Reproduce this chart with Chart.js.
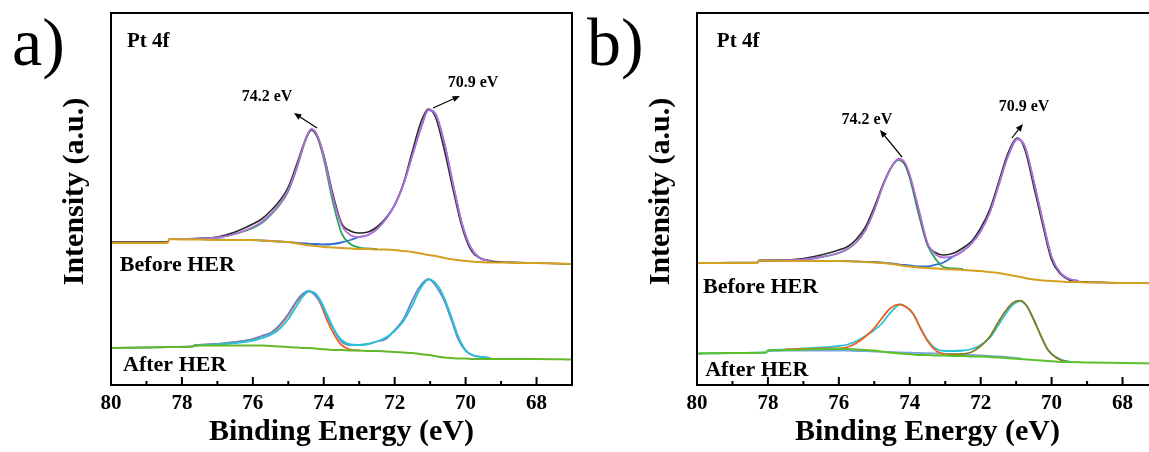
<!DOCTYPE html>
<html>
<head>
<meta charset="utf-8">
<script src="https://cdn.jsdelivr.net/npm/chart.js@4.4.1/dist/chart.umd.min.js"></script>
<style>
  body { margin: 0; width: 1149px; height: 452px; overflow: hidden; background: #fff; position: relative; }
  .panel { position: absolute; top: 0; width: 580px; height: 452px; }
  #pa { left: 0; }
  #pb { left: 586px; }
</style>
</head>
<body>
<div class="panel" id="pa"><canvas id="chartA" width="580" height="452"></canvas></div>
<div class="panel" id="pb"><canvas id="chartB" width="580" height="452"></canvas></div>
<script>
// tick labels (binding energy, eV)
const xTicks = [80, 78, 76, 74, 72, 70, 68];
const xMinor = [79, 77, 75, 73, 71, 69, 67];

// ---- panel a, before HER ----
const eA1 = [80, 79, 78.4, 78.35, 78, 77.5, 77, 76.5, 76, 75.75, 75.5, 75.25, 75, 74.75, 74.5, 74.35, 74.2, 74, 73.75, 73.5, 73.25, 73, 72.75, 72.5, 72.25, 72, 71.75, 71.5, 71.25, 71.05, 70.85, 70.6, 70.35, 70.1, 69.85, 69.6, 69.3, 69, 68.5, 68, 67.5, 67];
const rawA1 = [143, 143, 143, 146, 146, 146.5, 148, 153, 161, 166, 174, 184, 198, 222, 247, 255, 250, 230, 192, 162, 154, 152, 153, 158, 167, 180, 202, 234, 264, 276, 268, 235, 195, 158, 135, 127, 124, 123, 122.5, 122, 121.5, 121];
const fitA1 = [null, null, null, 146, 146, 146.5, 147.5, 151, 158, 163, 171, 181, 195, 219, 247, 256, 251, 229, 189, 160, 150, 148, 150, 156, 166, 180, 201, 230, 258, 275, 271, 242, 200, 161, 137, 127, 124, null, null, null, null, null];
const p1A1 = [null, null, null, 146, 146, 146.5, 147.5, 151, 157, 162, 170, 180, 194, 218, 246, 255, 249, 226, 184, 152, 141, 137.5, 136.5, 136, null, null, null, null, null, null, null, null, null, null, null, null, null, null, null, null, null, null];
const p2A1 = [null, null, null, 146, 146, 146, 145.5, 145, 145, 144.5, 144, 143.5, 143, 142, 141.5, 141, 141, 140.5, 141, 142.5, 145, 148, 150, 156, 166, 180, 201, 230, 258, 275, 271, 242, 200, 161, 137, 127, 124, null, null, null, null, null];
const bgA1 = [142, 142, 142, 146, 145.5, 145.5, 145, 145, 145, 144.5, 144, 143.5, 143, 141.5, 140, 139.5, 139, 138, 137.5, 137, 136.5, 136, 136, 135.5, 135.5, 135, 134, 133, 131.5, 130, 129, 127, 125.5, 124.5, 123.5, 123, 122.5, 122.5, 122, 122, 121.5, 121];

// ---- panel a, after HER ----
const eA2 = [80, 79, 78.4, 77.7, 77.65, 77, 76.5, 76, 75.75, 75.5, 75.25, 75, 74.75, 74.6, 74.42, 74.25, 74.1, 73.9, 73.7, 73.5, 73.25, 73, 72.75, 72.5, 72.25, 72, 71.75, 71.5, 71.3, 71.04, 70.8, 70.6, 70.4, 70.2, 70, 69.8, 69.55, 69.3, 69, 68, 67];
const rawA2 = [37, 37.5, 38, 38.5, 39.5, 41, 43, 46, 49, 52, 60, 71, 85, 91, 94, 90, 83, 68, 54, 43.5, 40, 40, 41, 43.5, 46, 55, 66, 85, 98, 106, 97, 84, 65, 45, 34, 29.5, 28, 27, null, null, null];
const fitA2 = [null, null, null, null, 39.5, 40.5, 42, 44.5, 47, 50, 56, 66, 80, 88, 93.5, 92, 85, 70, 55, 45, 40.5, 40, 41, 43.5, 47.5, 54, 64, 80, 95, 105.5, 100, 87, 68, 48, 35, 30, 28, 27, null, null, null];
const p1A2 = [null, null, null, null, 39.5, 41, 43, 46, 49, 52, 59, 70, 84, 90, 94, 90, 82, 64, 50, 40, 35.5, 34.5, null, null, null, null, null, null, null, null, null, null, null, null, null, null, null, null, null, null, null];
const bgA2 = [37, 37.5, 38, 38.5, 39.5, 39.5, 39.5, 39.5, 39.5, 39, 38.5, 38, 37.5, 37, 37, 36.5, 36, 35.5, 35, 35, 34.5, 34.5, 34, 34, 33.5, 33, 32.5, 32, 31, 30, 28.5, 27.5, 27, 26.5, 26.5, 26, 26, 26, 26, 26, 25.5];

// ---- panel b, before HER ----
const eB1 = [80, 79, 78.3, 78.25, 78, 77.5, 77, 76.5, 76, 75.75, 75.5, 75.25, 75, 74.75, 74.5, 74.32, 74.15, 74, 73.75, 73.5, 73.25, 73.05, 72.75, 72.5, 72.25, 72, 71.75, 71.5, 71.25, 70.96, 70.75, 70.5, 70.25, 70, 69.75, 69.5, 69.25, 69, 68.5, 68, 67.5, 67];
const rawB1 = [122, 122.5, 122.5, 124.5, 124.5, 125, 126.5, 130, 135, 138.5, 146, 158, 178, 201, 219, 226, 222, 209, 175, 141, 132, 130, 132, 137, 144, 157, 175, 202, 230, 247, 235, 198, 160, 125, 111, 105, 103.5, 103, 102.5, 102, 102, 101.5];
const fitB1 = [null, null, null, 124.5, 124.5, 124.8, 125.5, 128, 132, 136, 143, 155, 175, 200, 219, 226, 223, 210, 176, 142, 130, 127.5, 129, 134, 142, 154, 172, 199, 227, 246, 238, 203, 164, 128, 112, 106, 104, null, null, null, null, null];
const p1B1 = [null, null, null, 124.5, 124.5, 124.8, 125.5, 128, 132, 136, 143, 155, 175, 200, 219, 225, 221, 207, 171, 140, 125, 118, 116.5, 116, null, null, null, null, null, null, null, null, null, null, null, null, null, null, null, null, null, null];
const p2B1 = [null, null, null, 124.5, 124.5, 124.5, 124.5, 124.2, 124, 123.8, 123.5, 123.2, 123, 122.3, 121.5, 120.5, 120, 119.5, 118.5, 118.5, 120.5, 122.5, 129, 134, 142, 154, 172, 199, 227, 246, 238, 203, 164, 128, 112, 106, 104, null, null, null, null, null];
const bgB1 = [122, 122, 122, 124.5, 124.3, 124, 124, 124, 124, 123.8, 123.5, 123, 122.5, 122, 121, 120, 119, 118.5, 117.5, 117, 116.5, 116, 115.5, 115, 114.5, 114, 113, 112, 110.5, 108.5, 107, 105.5, 104.5, 104, 103.5, 103, 103, 102.5, 102.5, 102, 102, 101.5];

// ---- panel b, after HER ----
const eB2 = [80, 79, 78.05, 78, 77.5, 77, 76.5, 76, 75.75, 75.5, 75.25, 75, 74.8, 74.6, 74.42, 74.27, 74.1, 73.9, 73.7, 73.5, 73.25, 73, 72.75, 72.5, 72.25, 72, 71.75, 71.5, 71.3, 71.1, 70.88, 70.7, 70.5, 70.3, 70.1, 69.9, 69.7, 69.5, 69, 68, 67];
const fitB2 = [31.5, 32, 32.5, 34.5, 35.5, 36.5, 37.5, 39, 40.5, 44, 49, 55, 61, 70, 77, 80.5, 78, 71, 57, 45, 36, 34, 34, 34.5, 36, 40, 47, 60, 71, 80, 84, 79, 65, 49, 35, 28.5, 25, 23.5, null, null, null];
const p1B2 = [null, null, null, null, 35.5, 36, 36.5, 36.5, 38, 42, 48.5, 57, 66, 75, 79.5, 80.7, 78, 71, 57, 44, 34, 30.5, 29.5, 29, null, null, null, null, null, null, null, null, null, null, null, null, null, null, null, null, null];
const p2B2 = [null, null, null, null, null, null, null, null, null, null, null, null, null, null, null, null, null, null, null, null, null, 30.5, 30.5, 31, 33, 39, 48, 63, 74, 82, 84.3, 79, 65, 49, 35, 28, 24.5, 23, null, null, null];
const bgB2 = [31.5, 32, 32.5, 34.5, 35, 35.5, 36, 36, 36, 35.5, 35, 34.5, 33.5, 32.5, 32, 31.5, 31, 30.5, 30, 30, 29.5, 29.5, 29, 29, 28.5, 28.5, 28, 27.5, 27, 26.5, 26, 25.5, 25, 24.5, 24, 23.5, 23, 23, 22.5, 22, 21.5];
const bg2B2 = [null, null, null, 34, 34.5, 34.5, 34.5, 34.5, 34.3, 34, 33.8, 33.5, 33.2, 33, 32.8, 32.6, 32.4, 32.2, 32, 31.8, 31.5, 31.2, 30.8, 30.5, 30, 29.5, 29, 28.5, 28, 27.3, 26.5, null, null, null, null, null, null, null, null, null, null];

const serif = 'Liberation Serif';

function line(xs, ys, color, width) {
  return {
    data: xs.map((x, i) => ({ x: x, y: ys[i] })),
    borderColor: color,
    borderWidth: width || 1.8,
    pointRadius: 0,
    fill: false,
    spanGaps: false,
    cubicInterpolationMode: 'monotone'
  };
}

// frame, inward ticks and text notes
const framePlugin = {
  id: 'frame',
  afterDraw(chart, args, opts) {
    const { ctx, chartArea: a, scales: { x, y } } = chart;
    ctx.save();
    ctx.strokeStyle = '#000';
    ctx.lineWidth = 2;
    ctx.strokeRect(a.left, a.top, a.right - a.left, a.bottom - a.top);
    ctx.beginPath();
    xTicks.forEach(v => { const px = x.getPixelForValue(v); ctx.moveTo(px, a.bottom); ctx.lineTo(px, a.bottom - 8); });
    xMinor.forEach(v => { const px = x.getPixelForValue(v); ctx.moveTo(px, a.bottom); ctx.lineTo(px, a.bottom - 4); });
    ctx.stroke();

    ctx.fillStyle = '#000';
    ctx.textBaseline = 'middle';
    opts.labels.forEach(l => {
      ctx.font = 'bold ' + l.size + 'px "' + serif + '"';
      ctx.textAlign = l.align;
      ctx.fillText(l.text, x.getPixelForValue(l.x), y.getPixelForValue(l.y));
    });

    ctx.lineWidth = 1.2;
    opts.arrows.forEach(ar => {
      const x1 = x.getPixelForValue(ar[0]), y1 = y.getPixelForValue(ar[1]);
      const x2 = x.getPixelForValue(ar[2]), y2 = y.getPixelForValue(ar[3]);
      const ang = Math.atan2(y2 - y1, x2 - x1);
      ctx.beginPath();
      ctx.moveTo(x1, y1);
      ctx.lineTo(x2 - 5 * Math.cos(ang), y2 - 5 * Math.sin(ang));
      ctx.stroke();
      ctx.beginPath();
      ctx.moveTo(x2, y2);
      ctx.lineTo(x2 - 8 * Math.cos(ang - 0.4), y2 - 8 * Math.sin(ang - 0.4));
      ctx.lineTo(x2 - 8 * Math.cos(ang + 0.4), y2 - 8 * Math.sin(ang + 0.4));
      ctx.closePath();
      ctx.fill();
    });

    ctx.font = '68px "' + serif + '"';
    ctx.textAlign = 'left';
    ctx.textBaseline = 'alphabetic';
    ctx.fillText(opts.panel, opts.panelX, 65);
    ctx.restore();
  }
};

function makeOptions(notes) {
  return {
    responsive: false,
    animation: false,
    layout: { padding: { top: 13, right: 8, left: 0, bottom: 0 } },
    plugins: { legend: { display: false }, tooltip: { enabled: false }, frame: notes },
    scales: {
      x: {
        type: 'linear', reverse: true, min: 67, max: 80,
        afterBuildTicks: s => { s.ticks = xTicks.map(v => ({ value: v })); },
        afterFit: s => { s.height = 67; },
        grid: { display: false, drawTicks: false },
        border: { display: false },
        ticks: { color: '#000', padding: 6, maxRotation: 0, autoSkip: false, font: { family: serif, weight: 'bold', size: 21 } },
        title: { display: true, text: 'Binding Energy (eV)', color: '#000', padding: { top: 0, bottom: 2 }, font: { family: serif, weight: 'bold', size: 30 } }
      },
      y: {
        min: 0, max: 372,
        afterFit: s => { s.width = 111; },
        grid: { display: false, drawTicks: false },
        border: { display: false },
        ticks: { display: false },
        title: { display: true, text: '\u2002Intensity (a.u.)', color: '#000', padding: { top: 57, bottom: 0 }, font: { family: serif, weight: 'bold', size: 30 } }
      }
    }
  };
}

new Chart(document.getElementById('chartA'), {
  type: 'line',
  data: {
    datasets: [
      line(eA1, bgA1, '#d4a020', 2),
      line(eA1, fitA1, '#b070d8'),
      line(eA1, rawA1, '#2b2b2b', 1.6),
      line(eA1, p1A1, '#27a35a'),
      line(eA1, p2A1, '#2f6fd6'),
      line(eA2, bgA2, '#62b82a', 2),
      line(eA2, fitA2, '#28c2d6'),
      line(eA2, rawA2, '#6c87c9'),
      line(eA2, p1A2, '#f0601e')
    ]
  },
  options: makeOptions({
    panel: 'a)', panelX: 12,
    labels: [
      { text: 'Pt 4f', x: 79.55, y: 343, align: 'left', size: 21 },
      { text: 'Before HER', x: 79.75, y: 120, align: 'left', size: 22 },
      { text: 'After HER', x: 79.66, y: 20, align: 'left', size: 22 },
      { text: '74.2 eV', x: 75.6, y: 288, align: 'center', size: 16 },
      { text: '70.9 eV', x: 69.79, y: 302, align: 'center', size: 16 }
    ],
    arrows: [[74.19, 257, 74.84, 272], [70.92, 277, 70.16, 289]]
  }),
  plugins: [framePlugin]
});

new Chart(document.getElementById('chartB'), {
  type: 'line',
  data: {
    datasets: [
      line(eB1, bgB1, '#d4a020', 2),
      line(eB1, fitB1, '#b070d8'),
      line(eB1, rawB1, '#2b2b2b', 1.6),
      line(eB1, p1B1, '#27a35a'),
      line(eB1, p2B1, '#2f6fd6'),
      line(eB2, bgB2, '#5cc02a', 2),
      line(eB2, p1B2, '#f0601e'),
      line(eB2, p2B2, '#8a7d1e'),
      line(eB2, fitB2, '#28c2d6'),
      line(eB2, bg2B2, '#7aa4e0')
    ]
  },
  options: makeOptions({
    panel: 'b)', panelX: 1,
    labels: [
      { text: 'Pt 4f', x: 79.44, y: 343, align: 'left', size: 21 },
      { text: 'Before HER', x: 79.83, y: 98, align: 'left', size: 22 },
      { text: 'After HER', x: 79.77, y: 15, align: 'left', size: 22 },
      { text: '74.2 eV', x: 75.21, y: 265, align: 'center', size: 16 },
      { text: '70.9 eV', x: 70.78, y: 278, align: 'center', size: 16 }
    ],
    arrows: [[74.22, 228, 74.84, 255], [71.12, 247, 70.81, 261]]
  }),
  plugins: [framePlugin]
});
</script>
</body>
</html>
